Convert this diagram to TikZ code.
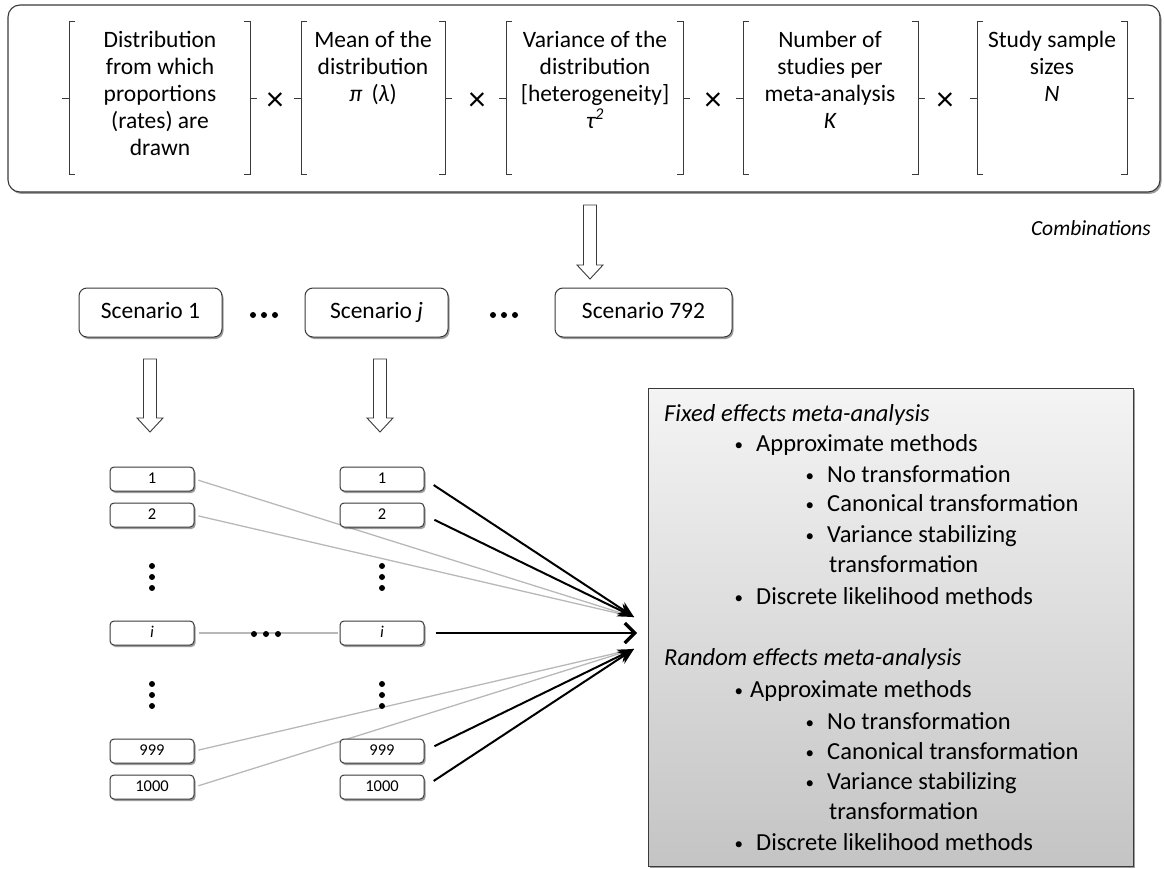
\documentclass[tikz,border=0pt]{standalone}
\usepackage{fontspec}
\setmainfont{Carlito}
\usetikzlibrary{arrows.meta,shadows}
\definecolor{frame}{HTML}{3A3A3A}
\definecolor{lgray}{HTML}{B8B8B8}
\definecolor{boxtop}{HTML}{F4F4F4}
\definecolor{boxbot}{HTML}{C4C4C4}
\newcommand{\hollowdown}[3]{\draw[hollow] (#1-6.5,#2) -- (#1+6.5,#2) -- (#1+6.5,#3-14) -- (#1+13,#3-14) -- (#1,#3) -- (#1-13,#3-14) -- (#1-6.5,#3-14) -- cycle;}
\newcommand{\bracketpair}[2]{%
  \draw[brk] (#1+6,22) -- (#1,22) -- (#1,175) -- (#1+6,175);
  \draw[brk] (#1,98.5) -- (#1-7,98.5);
  \draw[brk] (#2-6,22) -- (#2,22) -- (#2,175) -- (#2-6,175);
  \draw[brk] (#2,98.5) -- (#2+7,98.5);}
\newcommand{\bul}[1]{\makebox[#1][l]{\hspace{1.5pt}\raisebox{1pt}{\fontsize{17}{17}\selectfont •}}}
\begin{document}
\begin{tikzpicture}[x=1pt,y=-1pt,
  shad/.style={drop shadow={shadow xshift=1.5pt,shadow yshift=-2pt,opacity=0.55,fill=black!70}},
  bigbox/.style={draw=frame,line width=1.1pt,rounded corners=12pt,fill=white,shad},
  brk/.style={draw=frame,line width=1pt},
  hollow/.style={draw=frame,line width=0.9pt,fill=white},
  toptext/.style={anchor=north,align=center,inner sep=0pt,font=\fontsize{23.5}{27}\selectfont},
  times/.style={inner sep=0pt,font=\fontsize{34}{34}\selectfont},
  scen/.style={draw=frame,line width=1pt,rounded corners=8pt,fill=white,shad,minimum height=49pt,inner sep=0pt,text height=16pt,text depth=5pt,font=\fontsize{23.5}{28}\selectfont},
  small/.style={draw=frame,line width=1pt,rounded corners=4pt,fill=white,shad,minimum width=84pt,minimum height=24pt,inner sep=0pt,text height=11.5pt,text depth=3.5pt,font=\fontsize{16.5}{19}\selectfont},
  gline/.style={draw=lgray,line width=1.3pt},
  bline/.style={draw=black,line width=2pt,-{Stealth[length=16pt,width=14pt]}},
  mline/.style={draw=black,line width=2pt,-{Straight Barb[length=10pt,width=20pt,line width=3.2pt]}},
  btext/.style={anchor=base west,inner sep=0pt,font=\fontsize{24.5}{29}\selectfont}
]
\useasboundingbox (0,0) rectangle (1164,869);

% ---------- top box ----------
\draw[bigbox] (8,5) rectangle (1160,192);
\bracketpair{69}{250}
\bracketpair{301}{445}
\bracketpair{506}{683}
\bracketpair{743}{918}
\bracketpair{977}{1127}
\node[toptext] (g1) at (160,27) {\rule{0pt}{20pt}Distribution\\from which\\proportions\\(rates) are\\drawn};
\node[toptext] (g2) at (373,27) {\rule{0pt}{20pt}Mean of the\\distribution\\{\itshape π}\, ({\itshape λ})};
\node[toptext] (g3) at (595,27) {\rule{0pt}{20pt}Variance of the\\distribution\\{[}heterogeneity{]}\\{\itshape τ\textsuperscript{2}}};
\node[toptext] (g4) at (830,27) {\rule{0pt}{20pt}Number of\\studies per\\meta-analysis\\{\itshape K}};
\node[toptext] (g5) at (1052,27) {\rule{0pt}{20pt}Study sample\\sizes\\{\itshape N}};
\node[times] (x1) at (275,102) {×};
\node[times] (x2) at (477,102) {×};
\node[times] (x3) at (713,102) {×};
\node[times] (x4) at (945,102) {×};

\node[anchor=base east,inner sep=0pt,font=\fontsize{21.5}{25}\selectfont\itshape] (comb) at (1151,235) {Combinations};

% ---------- arrow to scenarios ----------
\hollowdown{590}{205}{279}

% ---------- scenarios ----------
\node[scen,minimum width=143pt] (s1) at (150.5,312.5) {Scenario 1};
\node[scen,minimum width=143pt] (sj) at (376.5,312.5) {Scenario {\itshape j}};
\node[scen,minimum width=177pt] (s792) at (643.5,312.5) {Scenario 792};
\foreach \xx in {253,264,275,493,504,515} \fill (\xx,315) circle (3pt);

\hollowdown{150}{359}{432}
\hollowdown{380}{359}{432}

% ---------- arrow targets ----------
\coordinate (tu) at (634,617);
\coordinate (tm) at (637,633);
\coordinate (tl) at (634,649);

% ---------- first column and grey lines ----------
\node[small] (a1) at (152,479) {1};
\node[small] (a2) at (152,515) {2};
\node[small] (ai) at (152,633) {\itshape i};
\node[small] (a999) at (152,751) {999};
\node[small] (a1000) at (152,787) {1000};
\draw[gline,shorten <=4pt] (a1.east) -- (tu);
\draw[gline,shorten <=4pt] (a2.east) -- (tu);
\draw[gline,shorten <=4pt] (a999.east) -- (tl);
\draw[gline,shorten <=4pt] (a1000.east) -- (tl);

% ---------- second column ----------
\node[small] (b1) at (382,479) {1};
\node[small] (b2) at (382,515) {2};
\node[small] (bi) at (382,633) {\itshape i};
\node[small] (b999) at (382,751) {999};
\node[small] (b1000) at (382,787) {1000};
\draw[gline,shorten <=4pt,shorten >=2pt] (ai.east) -- (bi.west);
\foreach \xx in {254,266,278} \fill (\xx,634) circle (3pt);
\foreach \xx in {152,382} {
  \foreach \yy in {566,577,588,684,695,706} \fill (\xx,\yy) circle (3pt);
}

% ---------- black arrows ----------
\draw[bline,shorten <=11pt] (b1.east) -- (tu);
\draw[bline,shorten <=11pt] (b2.east) -- (tu);
\draw[mline,shorten <=11pt] (bi.east) -- (tm);
\draw[bline,shorten <=11pt] (b999.east) -- (tl);
\draw[bline,shorten <=11pt] (b1000.east) -- (tl);

% ---------- methods box ----------
\node[draw=frame,line width=1pt,top color=boxtop,bottom color=boxbot,shad,minimum width=485pt,minimum height=478pt,inner sep=0pt] (mbox) at (890.5,627) {};
\node[btext,font=\fontsize{24.5}{29}\selectfont\itshape] (fe) at (664,421) {Fixed effects meta-analysis};
\node[btext] (f1) at (733,451) {\bul{23pt}Approximate methods};
\node[btext] (f2) at (804,482) {\bul{23pt}No transformation};
\node[btext] (f3) at (804,511) {\bul{23pt}Canonical transformation};
\node[btext] (f4) at (804,542) {\bul{23pt}Variance stabilizing};
\node[btext] (f5) at (829,572) {transformation};
\node[btext] (f6) at (733,604) {\bul{23pt}Discrete likelihood methods};
\node[btext,font=\fontsize{24.5}{29}\selectfont\itshape] (re) at (664,665) {Random effects meta-analysis};
\node[btext] (r1) at (733,697) {\bul{17pt}Approximate methods};
\node[btext] (r2) at (804,729) {\bul{23pt}No transformation};
\node[btext] (r3) at (804,759) {\bul{23pt}Canonical transformation};
\node[btext] (r4) at (804,789) {\bul{23pt}Variance stabilizing};
\node[btext] (r5) at (829,819) {transformation};
\node[btext] (r6) at (733,850) {\bul{23pt}Discrete likelihood methods};
\end{tikzpicture}
\end{document}
